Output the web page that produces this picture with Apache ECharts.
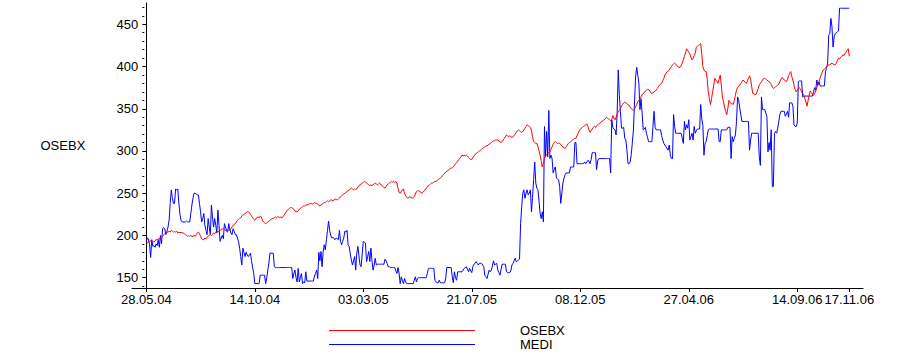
<!DOCTYPE html>
<html><head><meta charset="utf-8">
<script src="https://cdn.jsdelivr.net/npm/echarts@6/dist/echarts.min.js"></script>
<style>html,body{margin:0;padding:0;background:#fff}#c{width:916px;height:358px}</style>
</head><body><div id="c"></div>
<script>
const tickIndex = [0, 100, 200, 300, 400, 500, 600, 648];
const tickLabels = ['28.05.04', '14.10.04', '03.03.05', '21.07.05', '08.12.05', '27.04.06', '14.09.06', '17.11.06'];
const yMajor = [150, 200, 250, 300, 350, 400, 450];
const yMinor = [140, 160, 170, 180, 190, 210, 220, 230, 240, 260, 270, 280, 290, 310, 320, 330, 340, 360, 370, 380, 390, 410, 420, 430, 440, 460, 470];
const seriesNames = ['OSEBX', 'MEDI'];
const osebx = [
192,191,193,192,194,193,193,192,194,195,
195,196,196,197,198,199,201,202,203,204,
204,205,204,206,205,204,205,204,205,203,
204,203,204,203,203,202,201,200,199,200,
199,200,199,199,200,199,201,203,204,202,
199,196,195,195,197,196,198,199,200,201,
200,201,203,202,204,204,205,204,206,207,
208,208,207,206,207,206,207,206,208,210,
212,213,214,216,218,219,220,221,223,224,
225,226,227,228,228,227,225,223,221,219,
218,220,221,222,221,223,222,218,216,215,
214,215,216,217,218,219,220,220,221,222,
221,222,222,221,222,221,222,224,226,228,
230,231,232,233,233,232,231,229,228,228,
229,231,232,233,234,235,235,236,236,237,
237,238,238,237,238,239,238,238,237,236,
235,236,237,238,239,239,240,241,240,241,
242,242,241,242,243,243,242,243,244,246,
247,248,249,250,251,252,253,254,255,256,
255,254,255,254,255,257,259,260,261,262,
263,264,263,262,261,260,259,260,259,260,
261,262,261,260,261,262,261,259,258,257,
256,258,260,261,262,263,264,263,264,263,
264,262,256,251,250,252,254,255,250,247,
245,244,245,246,245,244,245,246,249,252,
253,253,252,251,250,251,253,254,256,257,
259,260,261,262,262,263,264,264,265,266,
267,268,269,271,272,274,275,276,277,278,
279,280,280,281,283,285,286,288,290,291,
293,295,294,295,294,295,294,292,291,290,
290,292,294,296,297,298,299,300,301,302,
303,304,305,306,306,307,308,309,310,311,
312,312,313,313,313,312,311,310,311,313,
315,317,319,318,317,318,317,316,317,318,
320,322,324,325,324,323,322,323,325,327,
329,331,330,329,328,324,317,311,310,309,
309,305,300,295,288,281,286,291,294,296,
297,298,299,302,305,308,310,311,310,309,
309,309,308,306,305,304,303,305,307,309,
310,311,312,313,314,315,315,318,321,324,
326,327,328,329,330,331,332,329,325,322,
324,326,328,329,328,330,331,332,333,334,
335,336,337,338,340,339,338,337,336,337,
342,339,337,340,344,346,348,350,353,355,
357,358,357,356,355,354,352,350,349,348,
350,352,355,358,360,362,364,367,368,369,
371,372,373,373,371,369,368,369,370,371,
372,374,376,378,379,380,383,386,390,392,
394,395,396,398,400,402,403,404,403,401,
400,399,399,401,404,408,412,416,421,419,
417,415,411,408,410,413,416,423,424,425,
426,427,415,400,396,394,394,385,370,362,
355,362,370,378,386,384,382,380,385,390,
378,364,358,352,347,343,350,360,358,356,
356,355,360,366,372,375,377,378,380,382,
384,383,381,380,383,386,389,385,376,368,
368,367,367,370,374,378,380,382,384,386,
386,385,384,383,382,381,379,376,374,375,
376,377,378,379,382,385,387,386,384,383,
382,385,389,392,394,388,384,378,373,370,
372,374,375,373,370,368,366,362,358,353,
360,366,371,369,367,366,368,371,375,378,
382,386,390,393,396,397,398,400,401,402,
402,403,404,403,402,402,404,407,410,409,
411,412,414,413,415,417,419,421,412
];
const medi = [
193,197,196,189,174,195,187,188,186,190,
188,195,186,200,190,208,209,208,201,205,
210,218,238,254,245,238,238,255,254,255,
238,225,218,216,216,216,216,217,216,216,
216,226,236,244,250,250,249,248,248,238,
228,216,220,226,212,206,201,220,210,201,
236,222,210,220,212,203,230,212,193,197,
200,196,214,210,205,204,214,207,203,201,
208,205,201,201,197,193,185,175,165,185,
180,175,180,177,175,177,179,170,162,155,
143,143,143,143,143,153,153,153,153,153,
143,150,159,168,179,179,179,179,163,162,
162,162,162,162,162,162,162,162,162,162,
162,162,162,162,162,149,155,159,150,145,
161,145,150,155,143,145,144,157,146,146,
146,146,146,146,146,152,155,159,149,180,
170,181,163,181,189,183,195,206,217,206,
200,197,198,196,195,197,196,195,206,193,
189,193,197,205,204,206,189,187,178,171,
165,170,175,159,179,187,176,165,163,178,
193,192,191,169,175,181,169,185,170,159,
165,173,165,166,166,166,166,166,166,166,
172,170,167,163,163,162,162,162,162,162,
158,155,162,155,143,151,147,143,149,145,
143,143,143,143,143,143,143,147,151,145,
149,150,150,150,150,150,150,150,150,155,
161,161,161,161,161,161,147,145,144,144,
147,144,144,144,144,144,150,162,162,162,
162,162,151,144,157,150,147,157,157,157,
157,157,159,161,162,163,160,157,161,158,
156,163,166,167,169,167,165,167,167,167,
165,163,153,151,149,154,159,157,159,164,
170,165,166,167,159,156,153,160,166,166,
166,166,157,156,156,156,158,165,167,170,
173,169,170,171,172,214,234,250,254,244,
250,254,248,250,254,228,245,266,287,262,
256,254,240,226,220,228,216,329,293,323,
293,348,291,295,291,274,278,281,268,267,
266,258,238,250,262,268,272,274,274,274,
274,281,281,281,281,310,310,285,285,285,
285,285,285,285,287,285,287,289,288,285,
290,298,298,298,298,278,288,291,291,291,
291,291,291,291,291,291,291,291,274,337,
328,326,325,319,345,396,366,347,327,327,
328,315,313,301,285,285,287,296,310,325,
358,388,399,390,380,349,362,345,325,326,
328,321,316,311,311,311,311,329,347,328,
325,325,325,325,325,318,313,309,307,305,
303,301,307,295,291,291,343,329,321,321,
321,321,321,321,315,309,335,325,331,327,
337,313,317,321,313,329,321,324,326,326,
326,355,338,330,295,309,311,318,325,326,
326,326,326,326,326,326,326,326,311,311,
325,325,325,325,325,325,328,328,328,291,
317,311,315,319,335,364,360,351,343,335,
335,335,335,335,335,335,301,313,321,321,
321,321,321,321,321,293,283,364,349,349,
349,345,341,299,310,301,325,258,258,321,
323,321,327,335,343,347,347,347,347,341,
344,347,340,357,357,357,353,331,329,329,
333,382,383,383,383,364,365,365,365,365,
365,365,365,365,365,370,375,372,384,378,
382,377,377,377,377,377,394,398,404,437,
439,457,447,423,435,439,440,441,442,469,
469,469,469,469,469,469,469,469,469
];

const font = 'Liberation Sans, Arial, sans-serif';
const chart = echarts.init(document.getElementById('c'), null, {renderer: 'svg'});
const toPairs = arr => arr.map((v, i) => [i, v]);
const legendBase = {
  orient: 'vertical', left: 329, itemWidth: 146, itemHeight: 1, itemGap: 0, icon: 'rect',
  selectedMode: false, padding: 0,
  textStyle: {fontFamily: font, fontSize: 13, color: '#000', padding: [0, 0, 0, 40]}
};
chart.setOption({
  animation: false,
  backgroundColor: '#fff',
  grid: {left: 132, right: 53, top: 3, bottom: 70, containLabel: false},
  legend: [
    Object.assign({}, legendBase, {top: 324, data: [seriesNames[0]]}),
    Object.assign({}, legendBase, {top: 338, data: [seriesNames[1]]})
  ],
  xAxis: {
    type: 'value', min: -13.2, max: 660.6,
    splitLine: {show: false},
    axisLine: {show: true, onZero: false, lineStyle: {color: '#000', width: 1}},
    axisTick: {show: true, customValues: tickIndex, length: 4, lineStyle: {color: '#000'}},
    axisLabel: {
      customValues: tickIndex, margin: 5, color: '#000', fontFamily: font, fontSize: 13,
      formatter: v => tickLabels[tickIndex.indexOf(Math.round(v))] || ''
    }
  },
  yAxis: [{
    type: 'value', min: 137.8, max: 475.2, offset: -12.3,
    name: 'OSEBX', nameLocation: 'middle', nameRotate: 0, nameGap: 59,
    nameTextStyle: {fontFamily: font, fontSize: 13, color: '#000', align: 'right'},
    splitLine: {show: false},
    axisLine: {show: true, lineStyle: {color: '#000', width: 1}},
    axisTick: {show: true, customValues: yMajor, length: 4, lineStyle: {color: '#000'}},
    axisLabel: {customValues: yMajor, margin: 6, color: '#000', fontFamily: font, fontSize: 13}
  }, {
    type: 'value', min: 137.8, max: 475.2, offset: -12.3, position: 'left',
    splitLine: {show: false},
    axisLine: {show: false},
    axisTick: {show: true, customValues: yMinor, length: 2, lineStyle: {color: '#000'}},
    axisLabel: {show: false}
  }],
  series: [
    {name: seriesNames[0], type: 'line', data: toPairs(osebx), symbol: 'none', lineStyle: {color: '#ff0000', width: 1}, itemStyle: {color: '#ff0000'}, z: 3},
    {name: seriesNames[1], type: 'line', data: toPairs(medi), symbol: 'none', lineStyle: {color: '#0000ff', width: 1}, itemStyle: {color: '#0000ff'}, z: 2}
  ]
});
</script></body></html>
